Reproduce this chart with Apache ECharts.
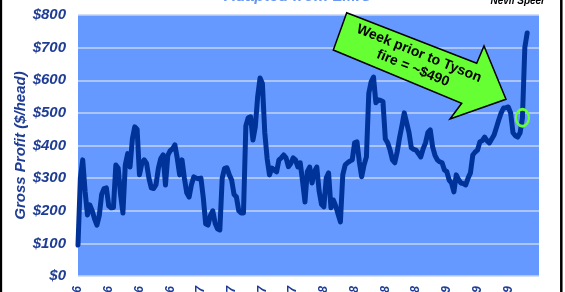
<!DOCTYPE html>
<html>
<head>
<meta charset="utf-8">
<script src="https://cdn.jsdelivr.net/npm/echarts@6/dist/echarts.min.js"></script>
<style>
html,body{margin:0;padding:0;background:#fff;}
#chart{width:565px;height:292px;}
</style>
</head>
<body>
<div id="chart"></div>
<script>
// Quarterly tick labels (every 13 weeks)
const tickLabels = ["Jan-16","Apr-16","Jul-16","Oct-16","Jan-17","Apr-17","Jul-17","Oct-17",
                    "Jan-18","Apr-18","Jul-18","Oct-18","Jan-19","Apr-19","Jul-19"];
// Weekly gross profit ($/head)
const grossProfit = [
  95, 300, 356, 260, 187, 218, 200, 175, 156, 185,
  250, 268, 270, 215, 209, 210, 340, 330, 250, 193,
  340, 375, 334, 420, 457, 450, 310, 345, 356, 345,
  300, 270, 268, 280, 330, 360, 371, 279, 370, 384,
  390, 402, 360, 310, 356, 300, 255, 242, 280, 304,
  300, 298, 300, 240, 160, 156, 185, 200, 162, 145,
  141, 300, 330, 332, 310, 294, 250, 242, 200, 193,
  193, 460, 485, 488, 417, 457, 550, 607, 590, 440,
  360, 310, 331, 325, 319, 356, 362, 371, 362, 335,
  345, 362, 356, 334, 347, 290, 227, 320, 334, 285,
  320, 334, 260, 220, 212, 300, 316, 209, 233, 215,
  190, 166, 310, 340, 347, 352, 356, 408, 411, 350,
  304, 340, 365, 560, 595, 610, 531, 540, 538, 534,
  420, 408, 386, 356, 347, 380, 423, 460, 500, 470,
  440, 393, 388, 386, 375, 365, 390, 408, 440, 448,
  396, 370, 356, 350, 347, 325, 320, 294, 285, 258,
  310, 295, 285, 283, 279, 300, 316, 371, 380, 386,
  411, 415, 426, 415, 408, 420, 432, 455, 479, 500,
  515, 516, 518, 500, 439, 430, 426, 439, 485, 700,
  745
];
const weekCount = 196; // axis extends a few weeks past the last value
const markerWeek = 188;          // week prior to Tyson fire
const markerValue = 485;
const annotationLines = ["Week prior to Tyson", "fire = ~$490"];

const weeks = [];
for (let i = 0; i < weekCount; i++) {
  weeks.push(i % 13 === 0 && tickLabels[i / 13] ? tickLabels[i / 13] : '');
}

const navy = '#1f3d94';
const font = 'Arial, "Liberation Sans", sans-serif';

const chart = echarts.init(document.getElementById('chart'), null, {renderer: 'canvas'});
chart.setOption({
  animation: false,
  backgroundColor: '#ffffff',
  grid: {left: 78, right: 26, top: 15, bottom: 16, show: true, backgroundColor: '#6699ff', borderWidth: 0,
    containLabel: false, outerBoundsMode: 'none'},
  xAxis: {
    type: 'category', data: weeks, boundaryGap: false,
    axisLine: {show: false}, axisTick: {show: false}, splitLine: {show: false},
    axisLabel: {interval: 12, rotate: 90, margin: 10, color: navy, fontSize: 12,
      fontWeight: 'bold', fontStyle: 'italic', fontFamily: font}
  },
  yAxis: {
    type: 'value', min: 0, max: 800, interval: 100,
    name: 'Gross Profit ($/head)', nameLocation: 'middle', nameGap: 50, nameMoveOverlap: false,
    nameTextStyle: {color: navy, fontSize: 15, fontWeight: 'bold', fontStyle: 'italic', fontFamily: font},
    axisLine: {show: false}, axisTick: {show: false},
    axisLabel: {formatter: v => '$' + v, margin: 12, color: navy, fontSize: 15,
      fontWeight: 'bold', fontStyle: 'italic', fontFamily: font},
    splitLine: {lineStyle: {color: '#c3d4f5', width: 1.5}}
  },
  series: [{
    type: 'line', data: grossProfit, showSymbol: false, smooth: false,
    lineStyle: {color: '#003399', width: 5, join: 'round', cap: 'round'},
    markPoint: {
      symbol: 'circle', symbolSize: [13, 17], silent: true,
      label: {show: false},
      itemStyle: {color: 'rgba(0,0,0,0)', borderColor: '#66ff33', borderWidth: 2.5},
      data: [{coord: [markerWeek, markerValue]}]
    }
  }],
  graphic: [
    {type: 'text', z: 50, style: {x: 298, y: 5, text: 'Adapted from LMIC', align: 'center', verticalAlign: 'bottom',
      fill: '#6a98f0', font: 'italic bold 16px ' + font}},
    {type: 'text', z: 50, style: {x: 545, y: 6, text: 'Nevil Speer', align: 'right', verticalAlign: 'bottom',
      fill: '#000', font: 'italic bold 10px ' + font}},
    {type: 'polygon', z: 50, shape: {points: [[346.7,12.7],[476.7,63.3],[484,46],[506,99.3],[450,119],[461.7,103.3],[333.3,50]]},
      style: {fill: '#66ff33', stroke: '#000', lineWidth: 1.5}},
    {type: 'text', z: 51, x: 416, y: 61, rotation: -22 * Math.PI / 180,
      style: {x: 0, y: 0, text: annotationLines.join('\n'), align: 'center', verticalAlign: 'middle',
        lineHeight: 16, fill: '#000', font: 'bold 14px ' + font}},
    {type: 'rect', z: 60, shape: {x: 0.9, y: -5, width: 560.4, height: 310},
      style: {fill: 'none', stroke: '#000', lineWidth: 2.5}}
  ]
});
</script>
</body>
</html>
